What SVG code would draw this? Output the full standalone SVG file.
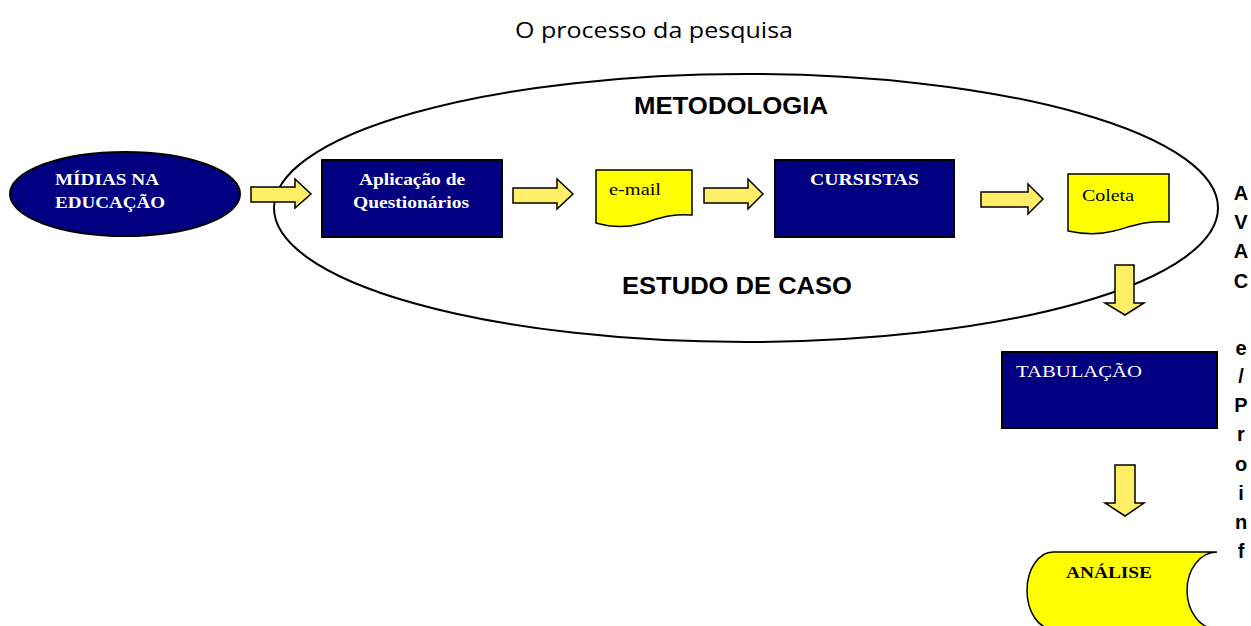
<svg xmlns="http://www.w3.org/2000/svg" width="1251" height="626" viewBox="0 0 1251 626">
<style>
.lbl{font-family:"Liberation Serif","Times New Roman",serif;font-size:16px}
.b{font-weight:bold}
.w{fill:#fff}
.k{fill:#000}
.navy{fill:#000080;stroke:#000;stroke-width:2}
.doc{fill:#ffff00;stroke:#000;stroke-width:1.5}
.arr{fill:#ffee66;stroke:#000;stroke-width:1.5;stroke-linejoin:miter}
.sans{font-family:"Liberation Sans",Arial,sans-serif;font-weight:bold;fill:#000}
.vt{font-family:"Liberation Sans",Arial,sans-serif;font-weight:bold;font-size:20px;fill:#000;text-anchor:middle}
</style>
<rect width="1251" height="626" fill="#fff"/>
<text x="515" y="38" font-family="'Comic Sans MS','Open Sans',sans-serif" font-size="21" textLength="278" lengthAdjust="spacingAndGlyphs" fill="#000">O processo da pesquisa</text>

<g id="metodologia">
<ellipse cx="746" cy="208" rx="472" ry="134" fill="none" stroke="#000" stroke-width="2"/>
<text class="sans" x="634" y="114" font-size="23" textLength="194" lengthAdjust="spacingAndGlyphs">METODOLOGIA</text>
<text class="sans" x="622" y="294" font-size="23" textLength="230" lengthAdjust="spacingAndGlyphs">ESTUDO DE CASO</text>
</g>

<g id="midias">
<ellipse cx="125" cy="194" rx="115" ry="42" class="navy"/>
<text class="lbl b w" x="55" y="185" textLength="104" lengthAdjust="spacingAndGlyphs">MÍDIAS NA</text>
<text class="lbl b w" x="55" y="208" textLength="110" lengthAdjust="spacingAndGlyphs">EDUCAÇÃO</text>
</g>

<g id="aplicacao">
<rect x="322" y="160" width="180" height="77" class="navy"/>
<text class="lbl b w" x="359" y="185" textLength="106" lengthAdjust="spacingAndGlyphs">Aplicação de</text>
<text class="lbl b w" x="353" y="208" textLength="116" lengthAdjust="spacingAndGlyphs">Questionários</text>
</g>

<g id="email">
<path class="doc" d="M596,170 H692 V215 C670,213 655,220 640,224 C625,228 610,227 596,223 Z"/>
<text class="lbl k" x="609" y="195" textLength="52" lengthAdjust="spacingAndGlyphs">e-mail</text>
</g>

<g id="cursistas">
<rect x="775" y="160" width="179" height="77" class="navy"/>
<text class="lbl b w" x="810" y="185" textLength="109" lengthAdjust="spacingAndGlyphs">CURSISTAS</text>
</g>

<g id="coleta">
<path class="doc" d="M1068,174 H1169 V222 C1146,220 1130,227 1114,231 C1098,235 1082,234 1068,231 Z"/>
<text class="lbl k" x="1082" y="201" textLength="52" lengthAdjust="spacingAndGlyphs">Coleta</text>
</g>

<g id="tabulacao">
<rect x="1002" y="352" width="215" height="76" class="navy"/>
<text class="lbl w" x="1016" y="377" textLength="126" lengthAdjust="spacingAndGlyphs">TABULAÇÃO</text>
</g>

<g id="analise">
<path d="M1053,552 H1217 A30,38.5 0 0 0 1217,629 H1053 A26,38.5 0 0 1 1053,552 Z" fill="#ffff00" stroke="#000" stroke-width="1.5"/>
<text class="lbl b k" x="1066" y="578" textLength="86" lengthAdjust="spacingAndGlyphs">ANÁLISE</text>
</g>

<g id="connectors">
<path class="arr" d="M251,187 H295 V179 L311,194 L295,208 V202 H251 Z"/>
<path class="arr" d="M513,188 H557 V179 L573,194 L557,209 V203 H513 Z"/>
<path class="arr" d="M704,188 H748 V179 L763,194 L748,209 V203 H704 Z"/>
<path class="arr" d="M981,192 H1028 V184 L1043,199 L1028,214 V207 H981 Z"/>
<path class="arr" d="M1115,265 H1134 V303 H1144 L1125,315 L1105,303 H1115 Z"/>
<path class="arr" d="M1115,465 H1135 V503 H1144 L1125,516 L1105,503 H1115 Z"/>
</g>

<g id="avac-proinf">
<text class="vt" x="1241" y="200">A</text>
<text class="vt" x="1241" y="229">V</text>
<text class="vt" x="1241" y="258">A</text>
<text class="vt" x="1241" y="288">C</text>
<text class="vt" x="1241" y="355">e</text>
<text class="vt" x="1241" y="383">/</text>
<text class="vt" x="1241" y="412">P</text>
<text class="vt" x="1241" y="441">r</text>
<text class="vt" x="1241" y="471">o</text>
<text class="vt" x="1241" y="500">i</text>
<text class="vt" x="1241" y="529">n</text>
<text class="vt" x="1241" y="558">f</text>
</g>
</svg>
